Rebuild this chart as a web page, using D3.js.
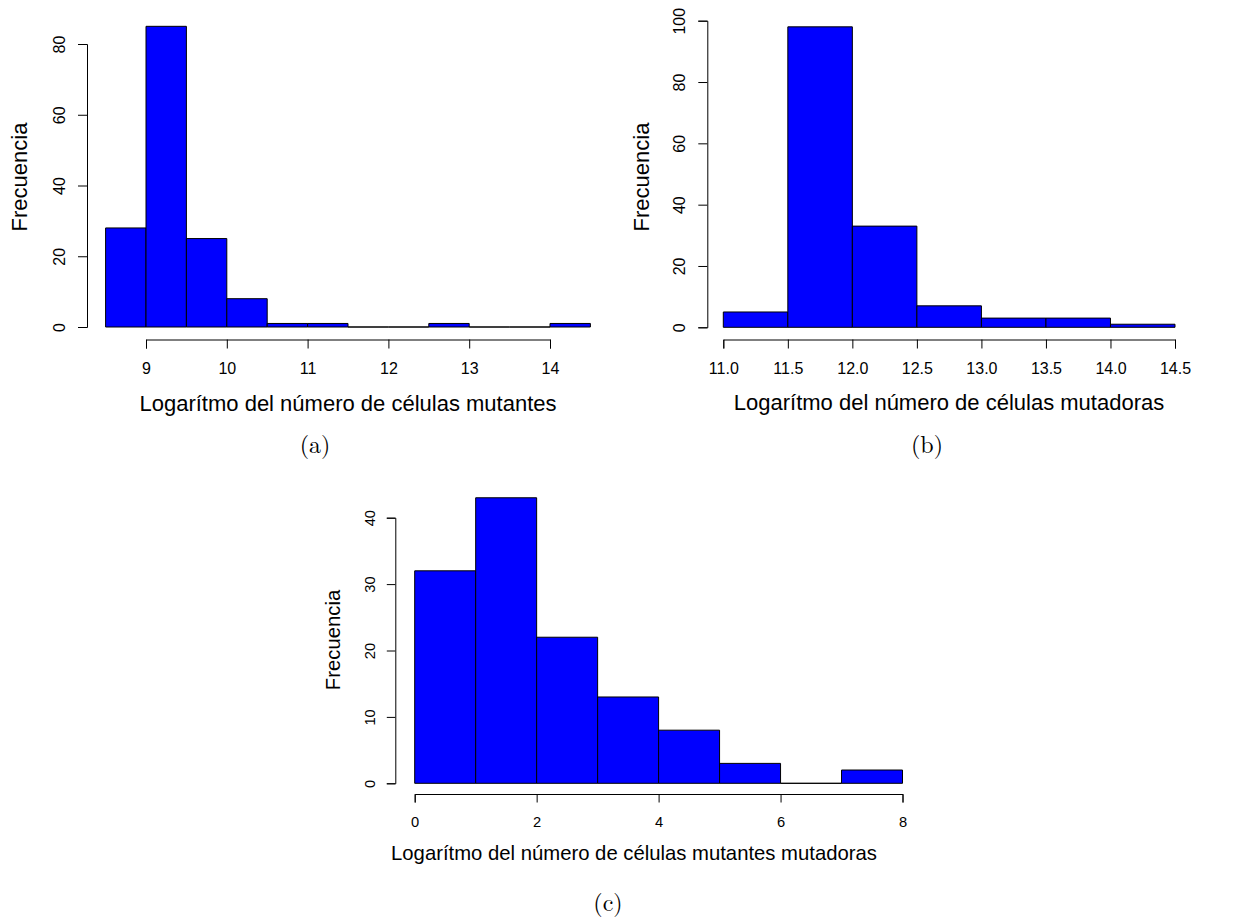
<!DOCTYPE html>
<html>
<head>
<meta charset="utf-8">
<script src="https://cdn.jsdelivr.net/npm/d3@7"></script>
<style>
  body { margin: 0; background: #fff; }
  svg { display: block; }
  .axis path, .axis line { stroke: #000; stroke-width: 1; }
  .axis text { font-family: "Liberation Sans", Arial, Helvetica, sans-serif; fill: #000; }
  .lab { font-family: "Liberation Sans", Arial, Helvetica, sans-serif; fill: #000; }
  .cap { font-family: "Latin Modern Roman", "CMU Serif", "Liberation Serif", serif; fill: #000; }
</style>
</head>
<body>
<svg id="fig" width="1241" height="922"></svg>
<script>
// (a) mutantes
var breaksA = [8.5, 9, 9.5, 10, 10.5, 11, 11.5, 12, 12.5, 13, 13.5, 14, 14.5];
var countsA = [28, 85, 25, 8, 1, 1, 0, 0, 1, 0, 0, 1];
var xTicksA = [9, 10, 11, 12, 13, 14];
var yTicksA = [0, 20, 40, 60, 80];

// (b) mutadoras
var breaksB = [11, 11.5, 12, 12.5, 13, 13.5, 14, 14.5];
var countsB = [5, 98, 33, 7, 3, 3, 1];
var xTicksB = [11, 11.5, 12, 12.5, 13, 13.5, 14, 14.5];
var yTicksB = [0, 20, 40, 60, 80, 100];

// (c) mutantes mutadoras
var breaksC = [0, 1, 2, 3, 4, 5, 6, 7, 8];
var countsC = [32, 43, 22, 13, 8, 3, 0, 2];
var xTicksC = [0, 2, 4, 6, 8];
var yTicksC = [0, 10, 20, 30, 40];

var svg = d3.select('#fig');

// one histogram panel, R hist() look
function drawHist(p) {
  var g = svg.append('g');
  var x = d3.scaleLinear().domain(p.xDom).range(p.xRange);
  var y = d3.scaleLinear().domain(p.yDom).range(p.yRange);

  var bins = p.counts.map(function(c, i) {
    return {x0: p.breaks[i], x1: p.breaks[i + 1], n: c};
  });

  // paths so that empty bins still show a line at the base
  g.selectAll('path.bar')
    .data(bins)
    .enter().append('path')
    .attr('class', 'bar')
    .attr('d', function(d) {
      return 'M' + x(d.x0) + ',' + y(0) + 'H' + x(d.x1) + 'V' + y(d.n) + 'H' + x(d.x0) + 'Z';
    })
    .attr('fill', '#0000ff')
    .attr('stroke', '#000')
    .attr('stroke-width', 1);

  // x axis only spans the first..last tick, like R
  var xt = p.xTicks;
  var xa = d3.scaleLinear()
    .domain([xt[0], xt[xt.length - 1]])
    .range([x(xt[0]), x(xt[xt.length - 1])]);
  var gx = g.append('g')
    .attr('class', 'axis')
    .attr('transform', 'translate(0,' + p.xAxisY + ')')
    .call(d3.axisBottom(xa).tickValues(xt).tickSizeOuter(0).tickSize(p.tick).tickFormat(p.xFmt));
  gx.selectAll('text')
    .attr('y', p.xLabOff)
    .attr('dy', 0)
    .style('font-size', p.tickFont + 'px');

  var yt = p.yTicks;
  var ya = d3.scaleLinear()
    .domain([yt[0], yt[yt.length - 1]])
    .range([y(yt[0]), y(yt[yt.length - 1])]);
  var gy = g.append('g')
    .attr('class', 'axis')
    .attr('transform', 'translate(' + p.yAxisX + ',0)')
    .call(d3.axisLeft(ya).tickValues(yt).tickSizeOuter(0).tickSize(p.tick));
  gy.selectAll('text')
    .attr('transform', 'rotate(-90)')
    .attr('x', 0)
    .attr('y', -p.yLabOff)
    .attr('dy', 0)
    .attr('text-anchor', 'middle')
    .style('font-size', p.tickFont + 'px');

  // axis titles
  g.append('text')
    .attr('class', 'lab')
    .attr('x', p.xTitleX)
    .attr('y', p.xTitleY)
    .attr('text-anchor', 'middle')
    .style('font-size', p.titleFont + 'px')
    .text(p.xTitle);

  g.append('text')
    .attr('class', 'lab')
    .attr('transform', 'translate(' + p.yTitleX + ',' + p.yTitleY + ') rotate(-90)')
    .attr('text-anchor', 'middle')
    .style('font-size', p.titleFont + 'px')
    .text('Frecuencia');

  // sub caption
  g.append('text')
    .attr('class', 'cap')
    .attr('x', p.capX)
    .attr('y', p.capY)
    .attr('text-anchor', 'middle')
    .style('font-size', p.capFont + 'px')
    .text(p.cap);
}

drawHist({
  breaks: breaksA, counts: countsA, xTicks: xTicksA, yTicks: yTicksA,
  xDom: [8.5, 14.5], xRange: [105.6, 590.4],
  yDom: [0, 80], yRange: [327, 44],
  xAxisY: 339.5, yAxisX: 87, tick: 9,
  xLabOff: 34.5, yLabOff: 22, tickFont: 16, xFmt: d3.format('d'),
  titleFont: 22, xTitle: 'Logarítmo del número de células mutantes',
  xTitleX: 348, xTitleY: 411, yTitleX: 27, yTitleY: 177,
  cap: '(a)', capX: 315, capY: 453, capFont: 24
});

drawHist({
  breaks: breaksB, counts: countsB, xTicks: xTicksB, yTicks: yTicksB,
  xDom: [11, 14.5], xRange: [723.3, 1175],
  yDom: [0, 100], yRange: [327.3, 20.7],
  xAxisY: 339.5, yAxisX: 707.3, tick: 9,
  xLabOff: 34.5, yLabOff: 22, tickFont: 16, xFmt: d3.format('.1f'),
  titleFont: 22, xTitle: 'Logarítmo del número de células mutadoras',
  xTitleX: 949, xTitleY: 410, yTitleX: 649, yTitleY: 177,
  cap: '(b)', capX: 927, capY: 453, capFont: 24
});

drawHist({
  breaks: breaksC, counts: countsC, xTicks: xTicksC, yTicks: yTicksC,
  xDom: [0, 8], xRange: [414.7, 902.5],
  yDom: [0, 40], yRange: [783.3, 517.7],
  xAxisY: 794, yAxisX: 395.3, tick: 8.5,
  xLabOff: 32.7, yLabOff: 20, tickFont: 14.7, xFmt: d3.format('d'),
  titleFont: 20.3, xTitle: 'Logarítmo del número de células mutantes mutadoras',
  xTitleX: 634, xTitleY: 860, yTitleX: 339.5, yTitleY: 640,
  cap: '(c)', capX: 608, capY: 911, capFont: 24
});
</script>
</body>
</html>
